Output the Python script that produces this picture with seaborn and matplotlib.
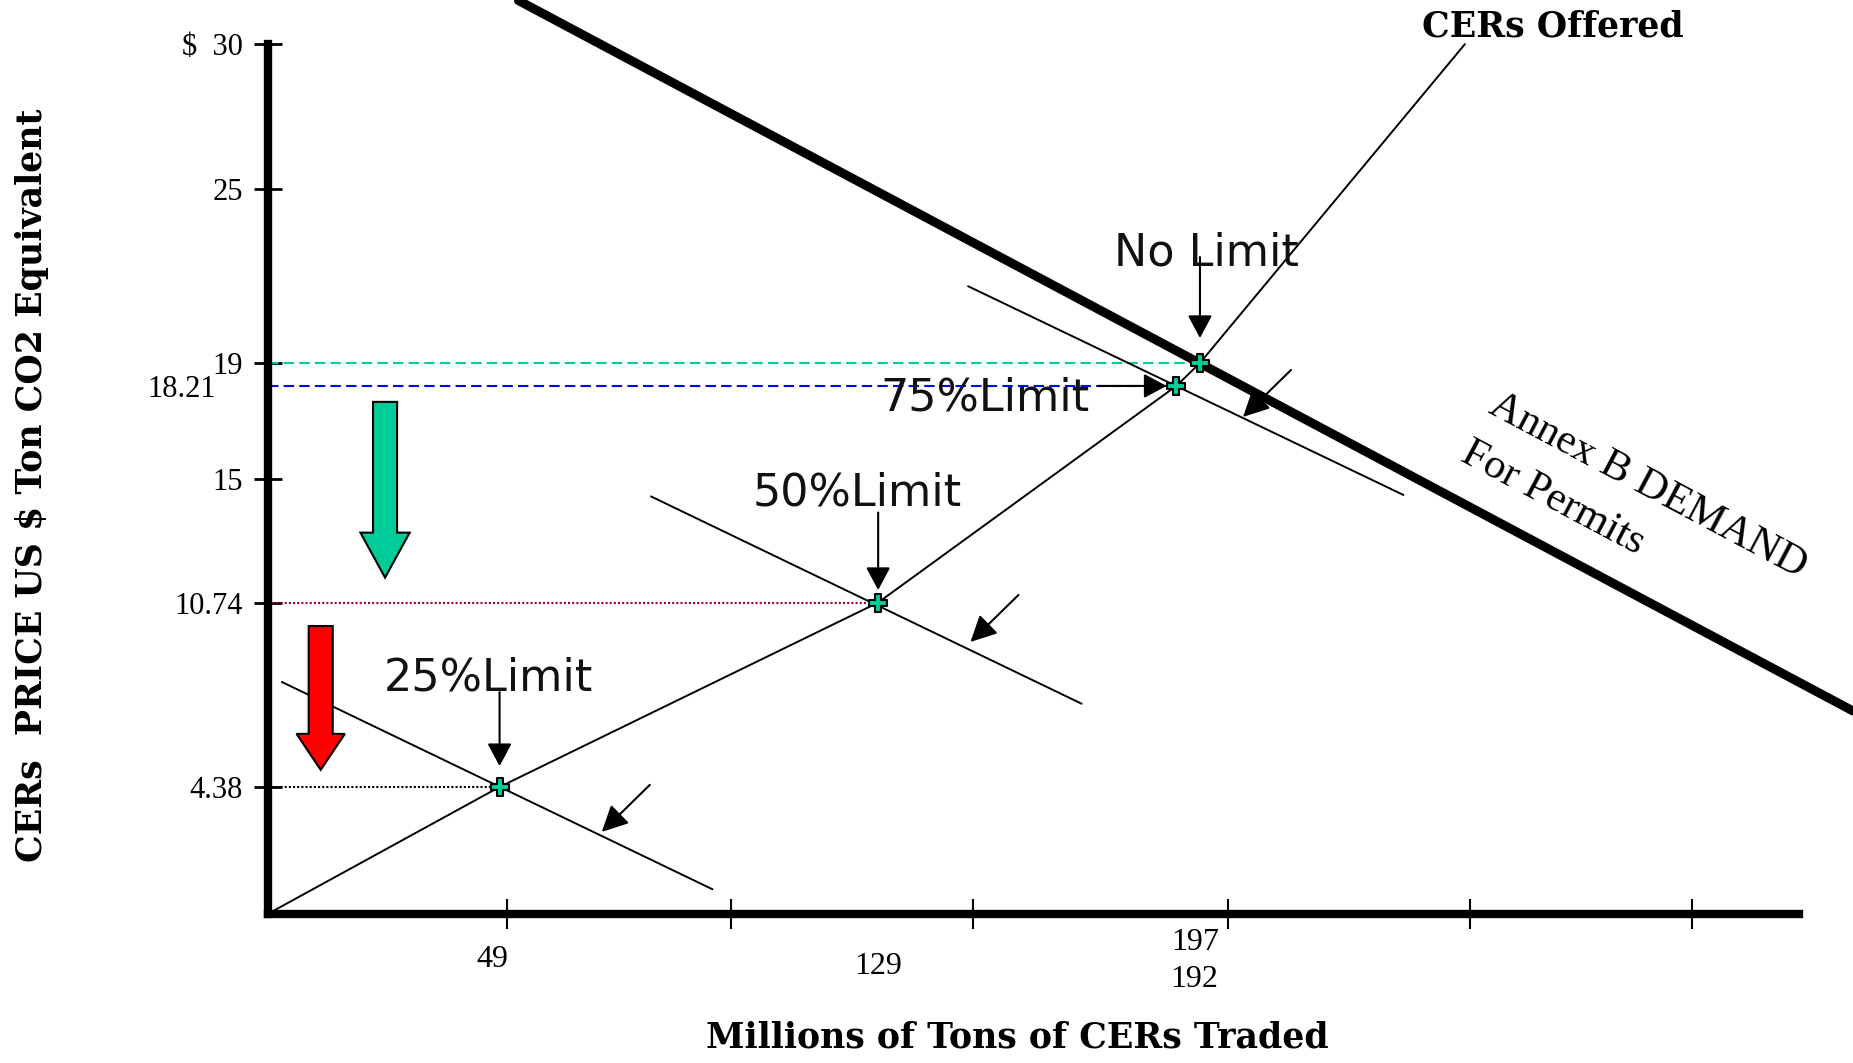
import numpy as np
import pandas as pd
import matplotlib.pyplot as plt
import matplotlib.patches as mpatches
import seaborn as sns

# equilibrium points (limit on CER use)
limits = ['25%Limit', '50%Limit', '75%Limit', 'No Limit']
traded = [49, 129, 192, 197]
price = [4.38, 10.74, 18.21, 19]

# CERs offered (supply)
supply_q = [0, 49, 129, 192, 197, 253]
supply_p = [0, 4.38, 10.74, 18.21, 19, 30]

# Annex B demand for permits
demand_q = [53, 335]
demand_p = [31.5, 7.0]

# demand shifted by the limits
shift_curve = ['25', '25', '50', '50', '75', '75']
shift_q = [3, 94, 81, 172, 148, 240]
shift_p = [8.0, 0.85, 14.4, 7.25, 21.65, 14.45]

ytick_vals = [4.38, 10.74, 15, 19, 25, 30]
ytick_labels = ['4.38', '10.74', '15', '19', '25', '$  30']
xtick_vals = [50.5, 98, 149, 203, 254, 301]

sns.set_theme(style='white')
plt.rcParams['font.family'] = ['Liberation Serif', 'DejaVu Serif']

fig = plt.figure(figsize=(18.53, 10.63), dpi=100)
ax = fig.add_axes([0, 0, 1, 1])
ax.set_xlim(-56.57, 335.0)
ax.set_ylim(-5.14, 31.52)

# axes drawn as two heavy lines from the origin
for s in ['top', 'right']:
    ax.spines[s].set_visible(False)
ax.spines['left'].set_position(('data', 0))
ax.spines['bottom'].set_position(('data', 0))
ax.spines['left'].set_bounds(0, 30)
ax.spines['bottom'].set_bounds(0, 323.5)
for s in ['left', 'bottom']:
    ax.spines[s].set_linewidth(6)
    ax.spines[s].set_color('black')
    ax.spines[s].set_capstyle('projecting')

ax.set_yticks(ytick_vals)
ax.set_yticklabels(ytick_labels)
ax.set_yticks([18.21], minor=True)
ax.set_yticklabels(['18.21'], minor=True)
ax.tick_params(axis='y', which='major', left=True, direction='inout', length=20,
               width=2, pad=8, labelsize=22, colors='black')
ax.tick_params(axis='y', which='minor', left=True, length=0, pad=37, labelsize=22,
               colors='black')
ax.set_xticks(xtick_vals)
ax.tick_params(axis='x', which='major', bottom=True, direction='inout', length=22,
               width=1.5, labelbottom=False, colors='black')

# reference price levels
ax.plot([0, traded[3]], [price[3], price[3]], color='#00CC99', lw=1.5, ls=(0, (5, 2.5)), zorder=2)
ax.plot([0, traded[2]], [price[2], price[2]], color='#0000FF', lw=1.5, ls=(0, (5, 2.5)), zorder=2)
ax.plot([0, traded[1]], [price[1], price[1]], color='#99003D', lw=1.5, ls=(0, (1, 1)), zorder=2)
ax.plot([0, traded[0]], [price[0], price[0]], color='black', lw=1.5, ls=(0, (1, 1)), zorder=2)

# curves
sns.lineplot(x=supply_q, y=supply_p, sort=False, color='black', lw=1.4, ax=ax, zorder=3)
sns.lineplot(x=demand_q, y=demand_p, sort=False, color='black', lw=6.5, ax=ax, zorder=3)
shift = pd.DataFrame({'q': shift_q, 'p': shift_p, 'curve': shift_curve})
sns.lineplot(data=shift, x='q', y='p', units='curve', estimator=None, sort=False,
             color='black', lw=1.4, ax=ax, zorder=3)

sns.scatterplot(x=traded, y=price, marker='P', s=175, color='#00CC99', edgecolor='black',
                linewidth=1.5, ax=ax, zorder=6)
ax.set_xlabel('')
ax.set_ylabel('')

# labels with arrows to the points
txt_off = [(-11, 109), (-21, 110), (-191, -12), (7, 110)]
arr_from = [(0, 95), (0, 90), (-78, 0), (0, 106)]
arr_shrink = [15, 9, 7, 18]
for lab, q, p, to, af, sh in zip(limits, traded, price, txt_off, arr_from, arr_shrink):
    ax.annotate(lab, xy=(q, p), xytext=to, textcoords='offset pixels', ha='center',
                va='center', fontsize=32, family='DejaVu Sans', color='#111111', zorder=7)
    ax.annotate('', xy=(q, p), xytext=af, textcoords='offset pixels',
                arrowprops=dict(arrowstyle='-|>,head_length=1.4,head_width=0.75',
                                mutation_scale=10, color='black', lw=1.5,
                                shrinkA=0, shrinkB=sh), zorder=7)

# demand shift arrows
for hq, hp in [(70.6, 2.83), (148.5, 9.38), (206.1, 17.14)]:
    ax.annotate('', xy=(hq, hp), xytext=(48, 47), textcoords='offset pixels',
                arrowprops=dict(arrowstyle='-|>,head_length=1.6,head_width=0.8',
                                mutation_scale=10, color='black', lw=1.5,
                                shrinkA=0, shrinkB=0), zorder=7)

# price drop block arrows
ax.add_patch(mpatches.FancyArrow(24.8, 17.66, 0, -6.06, width=5.08, head_width=10.4,
                                 head_length=1.55, length_includes_head=True,
                                 facecolor='#00CC99', edgecolor='black', lw=1.5, zorder=4))
ax.add_patch(mpatches.FancyArrow(11.2, 9.93, 0, -4.96, width=5.08, head_width=10.2,
                                 head_length=1.24, length_includes_head=True,
                                 facecolor='#FF0000', edgecolor='black', lw=1.5, zorder=4))

# values written under the quantity axis
for q, lab, off in [(49, '49', (-7, -46)), (129, '129', (0, -53)),
                    (197, '197', (-5, -29)), (192, '192', (18, -66))]:
    ax.annotate(lab, xy=(q, 0), xytext=off, textcoords='offset pixels', ha='center',
                va='center', fontsize=23, color='black')

ax.annotate('CERs Offered', xy=(supply_q[-1], supply_p[-1]), xytext=(88, 18),
            textcoords='offset pixels', ha='center', va='center', fontsize=25,
            fontweight='bold', family='DejaVu Serif', color='black')
ax.text(257.6, 17.31, 'Annex B DEMAND', rotation=-28, rotation_mode='anchor',
        ha='left', va='baseline', fontsize=31, color='black')
ax.text(251.7, 15.66, 'For Permits', rotation=-28, rotation_mode='anchor',
        ha='left', va='baseline', fontsize=31, color='black')

ax.text(1017 / 1853, 1 - 1038 / 1063, 'Millions of Tons of CERs Traded',
        transform=ax.transAxes, fontsize=25, fontweight='bold', family='DejaVu Serif',
        color='black', ha='center', va='center')
ax.set_ylabel('CERs  PRICE US $ Ton CO2 Equivalent', fontsize=25, fontweight='bold',
              family='DejaVu Serif', color='black', va='center')
ax.yaxis.set_label_coords(32 / 1853, 1 - 485 / 1063)

fig.savefig('out.png', dpi=100, facecolor='white')
